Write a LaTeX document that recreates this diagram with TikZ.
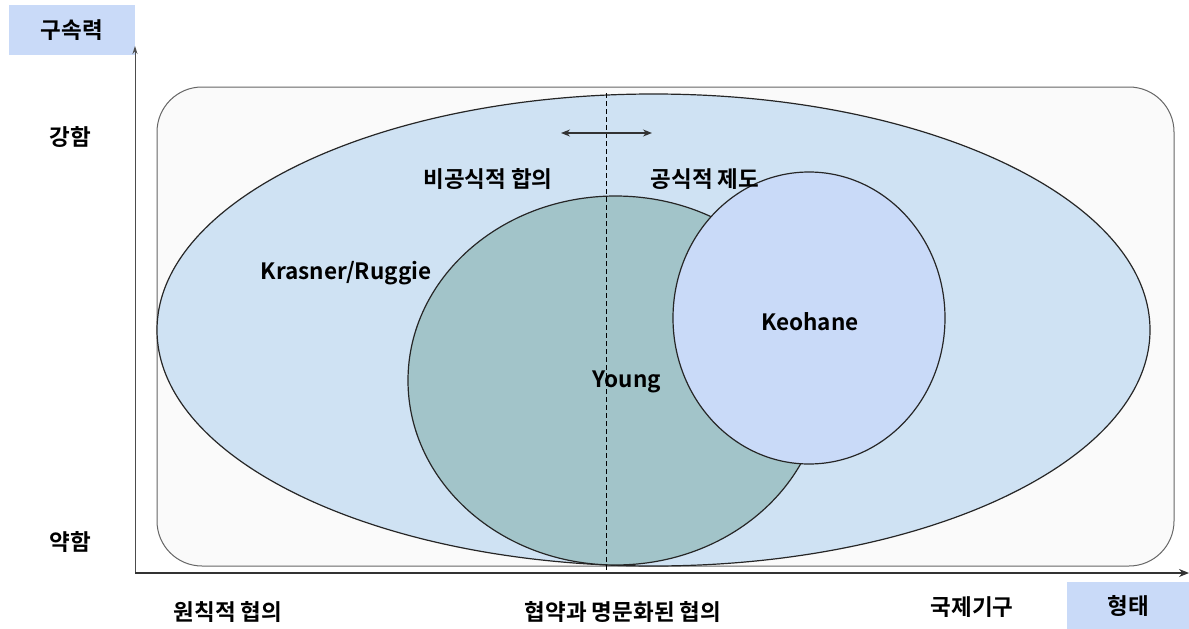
\documentclass[tikz,border=0pt]{standalone}
\usepackage{fontspec}
\setmainfont{Noto Sans CJK KR}[BoldFont={* Bold}]
\usetikzlibrary{arrows.meta}
\definecolor{lblue}{HTML}{C9DAF8}
\definecolor{ellblue}{HTML}{CFE2F3}
\definecolor{teal}{HTML}{A2C4C9}
\definecolor{rectfill}{HTML}{FAFAFA}
\tikzset{
  lbl/.style={font=\bfseries\fontsize{22.5}{25}\selectfont, inner sep=0pt, yshift=-2pt},
  axisbox/.style={fill=lblue, minimum width=126pt, minimum height=50pt, inner sep=0pt},
  shapeline/.style={draw=black!85, line width=1.2pt},
}
\begin{document}
\begin{tikzpicture}[x=1pt,y=-1pt]
\useasboundingbox (0,0) rectangle (1189,629);
% label boxes
\node[axisbox, lbl, yshift=2pt] (ylab) at (72,30) {구속력};
\node[axisbox, lbl, yshift=2pt, minimum width=122pt, minimum height=47pt] (xlab) at (1128,605.5) {형태};
% rounded rectangle
\node[draw=black!60, fill=rectfill, rounded corners=45pt, line width=1pt, minimum width=1017pt, minimum height=479pt, inner sep=0pt] (frame) at (665.5,326.5) {};
% big ellipse
\draw[shapeline, fill=ellblue] (653.5,330) ellipse [x radius=496.5, y radius=236];
% Young ellipse
\draw[shapeline, fill=teal] (615.5,380.5) ellipse [x radius=207.5, y radius=184.5];
% Keohane circle
\draw[shapeline, fill=lblue] (809,318) ellipse [x radius=136, y radius=146];
% dashed line
\coordinate (dtop) at (606,93);
\coordinate (dbot) at (606,573);
\draw[line width=1pt, dash pattern=on 5pt off 3pt] (dtop) -- (dbot);
% double arrow
\coordinate (al) at (561,133);
\coordinate (ar) at (652,133);
\draw[{Stealth[length=9pt,width=7pt]}-{Stealth[length=9pt,width=7pt]}, line width=1.2pt, black!80] (al) -- (ar);
% axes
\coordinate (origin) at (135,573);
\coordinate (ytip) at (135,46);
\coordinate (xtip) at (1189,573);
\draw[-{Stealth[length=8pt,width=5pt]}, line width=1pt, black!70] (origin) -- (ytip);
\draw[-{Stealth[length=10pt,width=8pt]}, line width=1.2pt, black!80] (origin) -- (xtip);
% texts
\node[lbl] (strong) at (70,135) {강함};
\node[lbl] (weak) at (70,540) {약함};
\node[lbl] (x1) at (228,610) {원칙적 협의};
\node[lbl] (x2) at (623,610) {협약과 명문화된 협의};
\node[lbl] (x3) at (972,605) {국제기구};
\node[lbl] (inf) at (488,177) {비공식적 합의};
\node[lbl] (form) at (705,177) {공식적 제도};
\node[lbl] (kr) at (346,271) {Krasner/Ruggie};
\node[lbl] (young) at (627,380) {Young};
\node[lbl] (keo) at (810,320) {Keohane};
\end{tikzpicture}
\end{document}
